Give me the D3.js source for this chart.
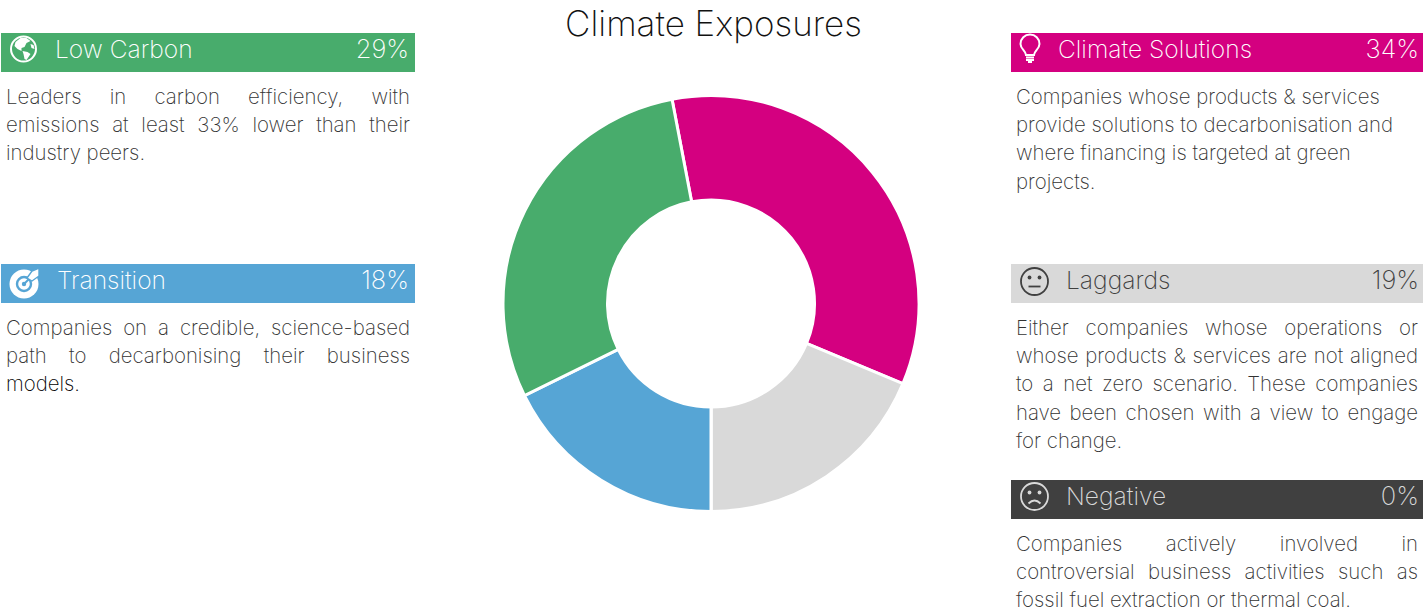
<!DOCTYPE html>
<html>
<head>
<meta charset="utf-8">
<title>Climate Exposures</title>
<script src="https://cdn.jsdelivr.net/npm/d3@7"></script>
<style>
html, body { margin: 0; padding: 0; background: #fff; overflow: hidden; }
svg { display: block; }
text { font-family: "Inter", "Lato", sans-serif; font-weight: 200; }
</style>
</head>
<body>
<div id="chart"></div>
<script>
const categories = ['Climate Solutions', 'Laggards', 'Negative', 'Transition', 'Low Carbon'];
const shares = [34.3, 18.7, 0, 17.7, 29.3];
const title = 'Climate Exposures';

const climateLines = ['Companies whose products & services', 'provide solutions to decarbonisation and', 'where financing is targeted at green', 'projects.'];
const laggardLines = ['Either companies whose operations or', 'whose products & services are not aligned', 'to a net zero scenario. These companies', 'have been chosen with a view to engage', 'for change.'];
const negativeLines = ['Companies actively involved in', 'controversial business activities such as', 'fossil fuel extraction or thermal coal.'];
const transitionLines = ['Companies on a credible, science-based', 'path to decarbonising their business', 'models.'];
const lowCarbonLines = ['Leaders in carbon efficiency, with', 'emissions at least 33% lower than their', 'industry peers.'];
const descriptions = [climateLines, laggardLines, negativeLines, transitionLines, lowCarbonLines];

const width = 1423;
const height = 607;
const cx = 711;
const cy = 303.5;
const outerRadius = 208;
const innerRadius = 103.5;
const lineHeight = 28.2;

const colorScale = d3.scaleOrdinal()
    .domain(categories)
    .range(['#d40080', '#d9d9d9', '#404040', '#56a5d5', '#48ac6c']);
const textColor = d3.scaleOrdinal()
    .domain(categories)
    .range(['#ffffff', '#404040', '#d9d9d9', '#ffffff', '#ffffff']);

// where each panel sits on the page
const panels = {
    'Climate Solutions': { x: 1011, y: 33, w: 412, nameX: 1058, iconX: 1030, iconY: 49, valueX: 1419, justify: false, icon: bulb },
    'Laggards': { x: 1011, y: 264, w: 412, nameX: 1066, iconX: 1034.5, iconY: 281.5, valueX: 1419, justify: true, icon: neutralFace },
    'Negative': { x: 1011, y: 480, w: 412, nameX: 1066, iconX: 1034.5, iconY: 496.5, valueX: 1419, justify: true, icon: sadFace },
    'Transition': { x: 1, y: 264, w: 414, nameX: 57, iconX: 24, iconY: 284, valueX: 409, justify: true, icon: target },
    'Low Carbon': { x: 1, y: 33, w: 414, nameX: 55, iconX: 23.5, iconY: 49, valueX: 409, justify: true, icon: globe }
};

const svg = d3.select('#chart')
    .append('svg')
    .attr('width', width)
    .attr('height', height);

svg.append('text')
    .attr('x', 713.5)
    .attr('y', 36)
    .attr('text-anchor', 'middle')
    .attr('font-size', 35)
    .attr('fill', '#111')
    .text(title);

const pie = d3.pie()
    .sort(null)
    .startAngle(-0.03 * 2 * Math.PI)
    .endAngle(0.97 * 2 * Math.PI)
    .value(d => d.share);

const arc = d3.arc()
    .innerRadius(innerRadius)
    .outerRadius(outerRadius);

const rows = categories.map((name, i) => ({ name: name, share: shares[i], lines: descriptions[i] }));

svg.append('g')
    .attr('transform', `translate(${cx},${cy})`)
    .selectAll('path')
    .data(pie(rows))
    .enter()
    .append('path')
    .attr('d', arc)
    .attr('fill', d => colorScale(d.data.name))
    .attr('stroke', '#fff')
    .attr('stroke-width', 3);

const panel = svg.selectAll('g.panel')
    .data(rows)
    .enter()
    .append('g')
    .attr('class', 'panel');

panel.append('rect')
    .attr('x', d => panels[d.name].x)
    .attr('y', d => panels[d.name].y)
    .attr('width', d => panels[d.name].w)
    .attr('height', 39)
    .attr('fill', d => colorScale(d.name));

panel.append('text')
    .attr('x', d => panels[d.name].nameX)
    .attr('y', d => panels[d.name].y + 25)
    .attr('font-size', 24.6)
    .attr('fill', d => textColor(d.name))
    .text(d => d.name);

panel.append('text')
    .attr('x', d => panels[d.name].valueX)
    .attr('y', d => panels[d.name].y + 25)
    .attr('text-anchor', 'end')
    .attr('font-size', 25.5)
    .attr('fill', d => textColor(d.name))
    .text(d => d3.format('.0f')(d.share) + '%');

panel.each(function(d) {
    const p = panels[d.name];
    const g = d3.select(this);
    const textWidth = p.w - 10;

    d.lines.forEach((line, i) => {
        const t = g.append('text')
            .attr('x', p.x + 5)
            .attr('y', p.y + 71 + i * lineHeight)
            .attr('font-size', 20.4)
            .attr('fill', line === 'models.' ? '#000' : '#333')
            .text(line);

        // last line stays left aligned, like justified text in a box
        if (p.justify && i < d.lines.length - 1) {
            const gaps = line.split(' ').length - 1;
            const extra = (textWidth - t.node().getComputedTextLength()) / gaps;
            t.style('word-spacing', extra + 'px');
        }
    });

    const ig = g.append('g')
        .attr('transform', `translate(${p.iconX},${p.iconY})`)
        .attr('fill', 'none')
        .attr('stroke', textColor(d.name));
    p.icon(ig, textColor(d.name));
});

function faceBase(g, color) {
    g.append('circle').attr('r', 13.5).attr('stroke-width', 1.8);
    g.append('circle').attr('cx', -5).attr('cy', -4).attr('r', 1.9).attr('fill', color).attr('stroke', 'none');
    g.append('circle').attr('cx', 5).attr('cy', -4).attr('r', 1.9).attr('fill', color).attr('stroke', 'none');
}

function neutralFace(g, color) {
    faceBase(g, color);
    g.append('path').attr('d', 'M-6,5H6').attr('stroke-width', 1.8);
}

function sadFace(g, color) {
    faceBase(g, color);
    g.append('path').attr('d', 'M-6,7Q0,1 6,7').attr('stroke-width', 1.8);
}

function globe(g, color) {
    g.append('circle').attr('r', 12.5).attr('stroke-width', 2);
    g.append('path')
        .attr('fill', color)
        .attr('stroke', 'none')
        .attr('d', 'M-8,-7L-3,-11L3,-11L7,-8L3,-6L1,-2L-2,-1L-2,2L-6,0L-9,-3Z M-1,2L4,3L7,5L3,11L1,10L0,5Z M7,-5L10,-4L11,0L8,-1Z');
}

function target(g, color) {
    const bg = colorScale('Transition');
    g.append('circle').attr('r', 14.5).attr('fill', color).attr('stroke', 'none');
    g.append('circle').attr('r', 7).attr('stroke', bg).attr('stroke-width', 2.4);
    g.append('circle').attr('r', 2.2).attr('fill', bg).attr('stroke', 'none');
    g.append('path')
        .attr('stroke', bg)
        .attr('stroke-width', 2)
        .attr('d', 'M0,0L8,-8');
    g.append('path')
        .attr('fill', color)
        .attr('stroke', bg)
        .attr('stroke-width', 1.4)
        .attr('d', 'M3,-6L8,-13L15,-16L15,-8L8,-3Z');
}

function bulb(g, color) {
    g.append('path')
        .attr('stroke-width', 2)
        .attr('d', 'M-4,6C-4,2 -9.5,0 -9.5,-5A9.5,9.5 0 0 1 9.5,-5C9.5,0 4,2 4,6Z');
    g.append('path')
        .attr('stroke-width', 2.2)
        .attr('d', 'M-4,8.5H4M-4,11H4M-2,13H2');
}
</script>
</body>
</html>
